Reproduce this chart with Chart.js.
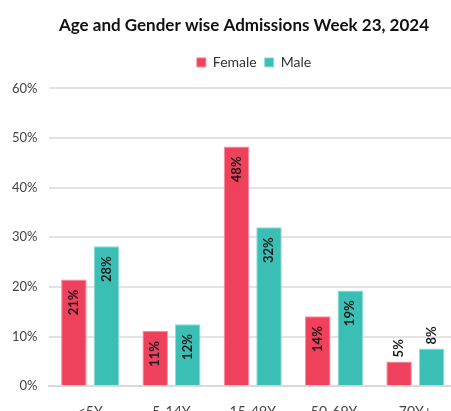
<!DOCTYPE html>
<html>
<head>
<meta charset="utf-8">
<script src="https://cdn.jsdelivr.net/npm/chart.js@4/dist/chart.umd.min.js"></script>
<style>
  html, body { margin: 0; padding: 0; background: #fff; overflow: hidden; }
  #wrap { width: 462px; height: 429px; position: relative; }
</style>
</head>
<body>
<div id="wrap"><canvas id="c"></canvas></div>
<script>
const categories = ['<5Y', '5-14Y', '15-49Y', '50-69Y', '70Y+'];
const femaleValues = [21.5, 11.1, 48.3, 14.1, 5.0];
const maleValues = [28.2, 12.5, 32.0, 19.3, 7.6];
const femaleLabels = ['21%', '11%', '48%', '14%', '5%'];
const maleLabels = ['28%', '12%', '32%', '19%', '8%'];
const yTicks = [0, 10, 20, 30, 40, 50, 60];

const FEMALE = 'rgb(239,64,92)';
const MALE = 'rgb(59,191,180)';
const FONT = 'Lato, "Open Sans", sans-serif';

const barLabels = {
  id: 'barLabels',
  afterDatasetsDraw(chart) {
    const ctx = chart.ctx;
    const lbls = [femaleLabels, maleLabels];
    chart.data.datasets.forEach((ds, di) => {
      const meta = chart.getDatasetMeta(di);
      meta.data.forEach((bar, i) => {
        const v = ds.data[i];
        const txt = lbls[di][i];
        ctx.save();
        ctx.font = 'bold 13px ' + FONT;
        ctx.fillStyle = '#1a1a1a';
        ctx.translate(bar.x, 0);
        ctx.rotate(-Math.PI / 2);
        ctx.textBaseline = 'middle';
        if (v >= 10) {
          ctx.textAlign = 'right';
          ctx.fillText(txt, -(bar.y + 10), 0);
        } else {
          ctx.textAlign = 'left';
          ctx.fillText(txt, -(bar.y - 4), 0);
        }
        ctx.restore();
      });
    });
  }
};

function shiftBox(box, dx) {
  const d = box.draw;
  box.draw = function (...args) {
    this.left += dx; this.right += dx;
    d.apply(this, args);
    this.left -= dx; this.right -= dx;
  };
}

const layoutTweaks = {
  id: 'layoutTweaks',
  beforeInit(chart) {
    const lg = chart.legend;
    const fit = lg.fit;
    lg.fit = function () { fit.call(this); this.height += 9; };
    shiftBox(lg, 26);
    shiftBox(chart.titleBlock, 16);
  }
};

new Chart(document.getElementById('c'), {
  type: 'bar',
  data: {
    labels: categories,
    datasets: [
      { label: 'Female', data: femaleValues, backgroundColor: FEMALE, borderColor: 'rgb(245,140,155)', borderWidth: 1 },
      { label: 'Male', data: maleValues, backgroundColor: MALE, borderColor: 'rgb(140,220,212)', borderWidth: 1 }
    ]
  },
  options: {
    responsive: true,
    maintainAspectRatio: false,
    animation: false,
    layout: { padding: { left: 0, right: 6, top: 15, bottom: 0 } },
    categoryPercentage: 0.8,
    barPercentage: 0.785,
    plugins: {
      title: {
        display: true,
        text: 'Age and Gender wise Admissions Week 23, 2024',
        color: '#111',
        font: { family: FONT, size: 17, weight: 'bold' },
        padding: { top: 0, bottom: 12 }
      },
      legend: {
        display: true,
        labels: {
          color: '#333',
          font: { family: FONT, size: 14 },
          boxWidth: 9, boxHeight: 9, padding: 8
        }
      },
      tooltip: { enabled: false }
    },
    scales: {
      x: {
        grid: { display: false },
        border: { display: true, color: '#d9d9d9', width: 2 },
        ticks: { color: '#444', font: { family: FONT, size: 14 }, padding: 9 }
      },
      y: {
        min: 0, max: 60,
        afterBuildTicks(scale) { scale.ticks = yTicks.map(v => ({ value: v })); },
        grid: { color: '#e3e3e3', lineWidth: 2, drawTicks: false },
        border: { display: false },
        ticks: { color: '#444', font: { family: FONT, size: 13 }, padding: 12, callback: v => v + '%' }
      }
    }
  },
  plugins: [barLabels, layoutTweaks]
});
</script>
</body>
</html>
